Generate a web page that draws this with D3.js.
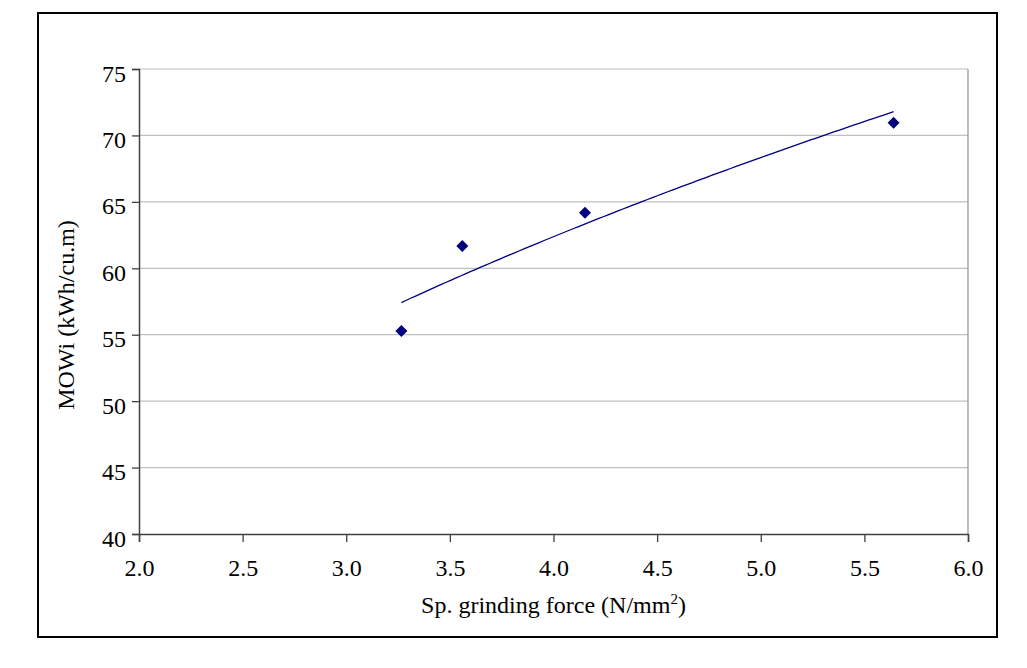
<!DOCTYPE html>
<html>
<head>
<meta charset="utf-8">
<script src="https://cdn.jsdelivr.net/npm/d3@7"></script>
<style>
  body { margin: 0; background: #fff; }
  text { font-family: "Liberation Serif", "Times New Roman", serif; fill: #000; }
</style>
</head>
<body>
<div id="chart"></div>
<script>
// data
var forceX = [3.266, 3.56, 4.152, 5.641];      // Sp. grinding force (N/mm2)
var mowiY = [55.28, 61.68, 64.18, 70.96];       // MOWi (kWh/cu.m)
var xTicks = [2.0, 2.5, 3.0, 3.5, 4.0, 4.5, 5.0, 5.5, 6.0];
var yTicks = [40, 45, 50, 55, 60, 65, 70, 75];

// layout
var W = 1027, H = 668;
var PL = 139, PR = 968, PT = 69, PB = 534;
var NAVY = "#000080";

var svg = d3.select("#chart").append("svg")
  .attr("width", W)
  .attr("height", H);

svg.append("rect")
  .attr("width", W).attr("height", H)
  .style("fill", "white");

// outer chart border
svg.append("rect")
  .attr("x", 38).attr("y", 13)
  .attr("width", 959).attr("height", 624)
  .style("fill", "none")
  .style("stroke", "#000")
  .style("stroke-width", 2);

var x = d3.scaleLinear().domain([2, 6]).range([PL, PR]);
var y = d3.scaleLinear().domain([40, 75]).range([PB, PT]);

// gridlines
svg.append("g")
  .selectAll("line")
  .data(yTicks.filter(function(d){ return d > 40; }))
  .enter().append("line")
  .attr("x1", PL).attr("x2", PR)
  .attr("y1", function(d){ return y(d); })
  .attr("y2", function(d){ return y(d); })
  .style("stroke", "#c0c0c0")
  .style("stroke-width", 1.2);

// plot area border (right side)
svg.append("line")
  .attr("x1", PR).attr("x2", PR).attr("y1", PT).attr("y2", PB)
  .style("stroke", "#909090")
  .style("stroke-width", 1.2);

// axes
var yAxis = svg.append("g")
  .attr("transform", "translate(" + PL + ",0)")
  .call(d3.axisLeft(y).tickValues(yTicks).tickSize(7).tickFormat(d3.format("d")));
var xAxis = svg.append("g")
  .attr("transform", "translate(0," + PB + ")")
  .call(d3.axisBottom(x).tickValues(xTicks).tickSize(8).tickFormat(d3.format(".1f")));

[xAxis, yAxis].forEach(function(a){
  a.select(".domain").style("stroke", "#404040").style("stroke-width", 1.5);
  a.selectAll(".tick line").style("stroke", "#404040").style("stroke-width", 1.3);
  a.selectAll("text")
    .style("font-family", "'Liberation Serif', 'Times New Roman', serif")
    .style("font-size", "24px")
    .attr("fill", "#000");
});
yAxis.selectAll(".tick text").attr("x", -13).attr("dy", null).attr("y", 12);
xAxis.selectAll(".tick text").attr("dy", null).attr("y", 42);

// power trendline fitted to the points (y = a*x^b)
var lx = forceX.map(Math.log), ly = mowiY.map(Math.log);
var mx = d3.mean(lx), my = d3.mean(ly);
var b = d3.sum(lx, function(v, i){ return (v - mx) * (ly[i] - my); }) /
        d3.sum(lx, function(v){ return (v - mx) * (v - mx); });
var a = Math.exp(my - b * mx);
var x0 = d3.min(forceX), x1 = d3.max(forceX);
var trend = d3.range(0, 101).map(function(i){
  var xv = x0 + (x1 - x0) * i / 100;
  return [xv, a * Math.pow(xv, b)];
});
svg.append("path")
  .datum(trend)
  .attr("d", d3.line().x(function(d){ return x(d[0]); }).y(function(d){ return y(d[1]); }))
  .style("fill", "none")
  .style("stroke", NAVY)
  .style("stroke-width", 1.3);

// diamond markers
svg.append("g")
  .selectAll("path")
  .data(forceX)
  .enter().append("path")
  .attr("transform", function(d, i){ return "translate(" + x(d) + "," + y(mowiY[i]) + ")"; })
  .attr("d", "M0,-6L6,0L0,6L-6,0Z")
  .style("fill", NAVY);

// axis titles
var xt = svg.append("text")
  .attr("x", (PL + PR) / 2)
  .attr("y", 613)
  .attr("text-anchor", "middle")
  .style("font-size", "24px")
  .text("Sp. grinding force (N/mm");
xt.append("tspan").attr("dy", -9).style("font-size", "15px").text("2");
xt.append("tspan").attr("dy", 9).text(")");

svg.append("text")
  .attr("transform", "translate(74," + 315 + ") rotate(-90)")
  .attr("text-anchor", "middle")
  .style("font-size", "24px")
  .text("MOWi (kWh/cu.m)");
</script>
</body>
</html>
